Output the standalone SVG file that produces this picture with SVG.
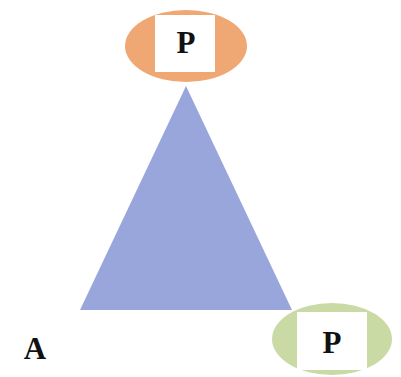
<svg xmlns="http://www.w3.org/2000/svg" width="401" height="377" viewBox="0 0 401 377">
<style>
.lbl{font-family:"Liberation Serif","Times New Roman",serif;font-weight:bold;font-size:31px;fill:#111;text-anchor:middle}
.box{fill:#fff}
</style>
<rect width="401" height="377" fill="#fff"/>
<g id="connectors"></g>
<g id="triangle"><polygon points="186,86 80,310 292,310" fill="#99A6DB"/></g>
<g id="top-node">
<ellipse cx="186" cy="46" rx="61" ry="36" fill="#EFA774"/>
<rect class="box" x="155" y="15" width="60" height="57"/>
<text class="lbl" x="186" y="53">P</text>
</g>
<g id="bottom-node">
<ellipse cx="332" cy="339" rx="60" ry="36" fill="#CADAA5"/>
<rect class="box" x="297" y="312" width="70" height="58"/>
<text class="lbl" x="332" y="353">P</text>
</g>
<g id="label-a"><text class="lbl" x="35" y="359">A</text></g>
</svg>
